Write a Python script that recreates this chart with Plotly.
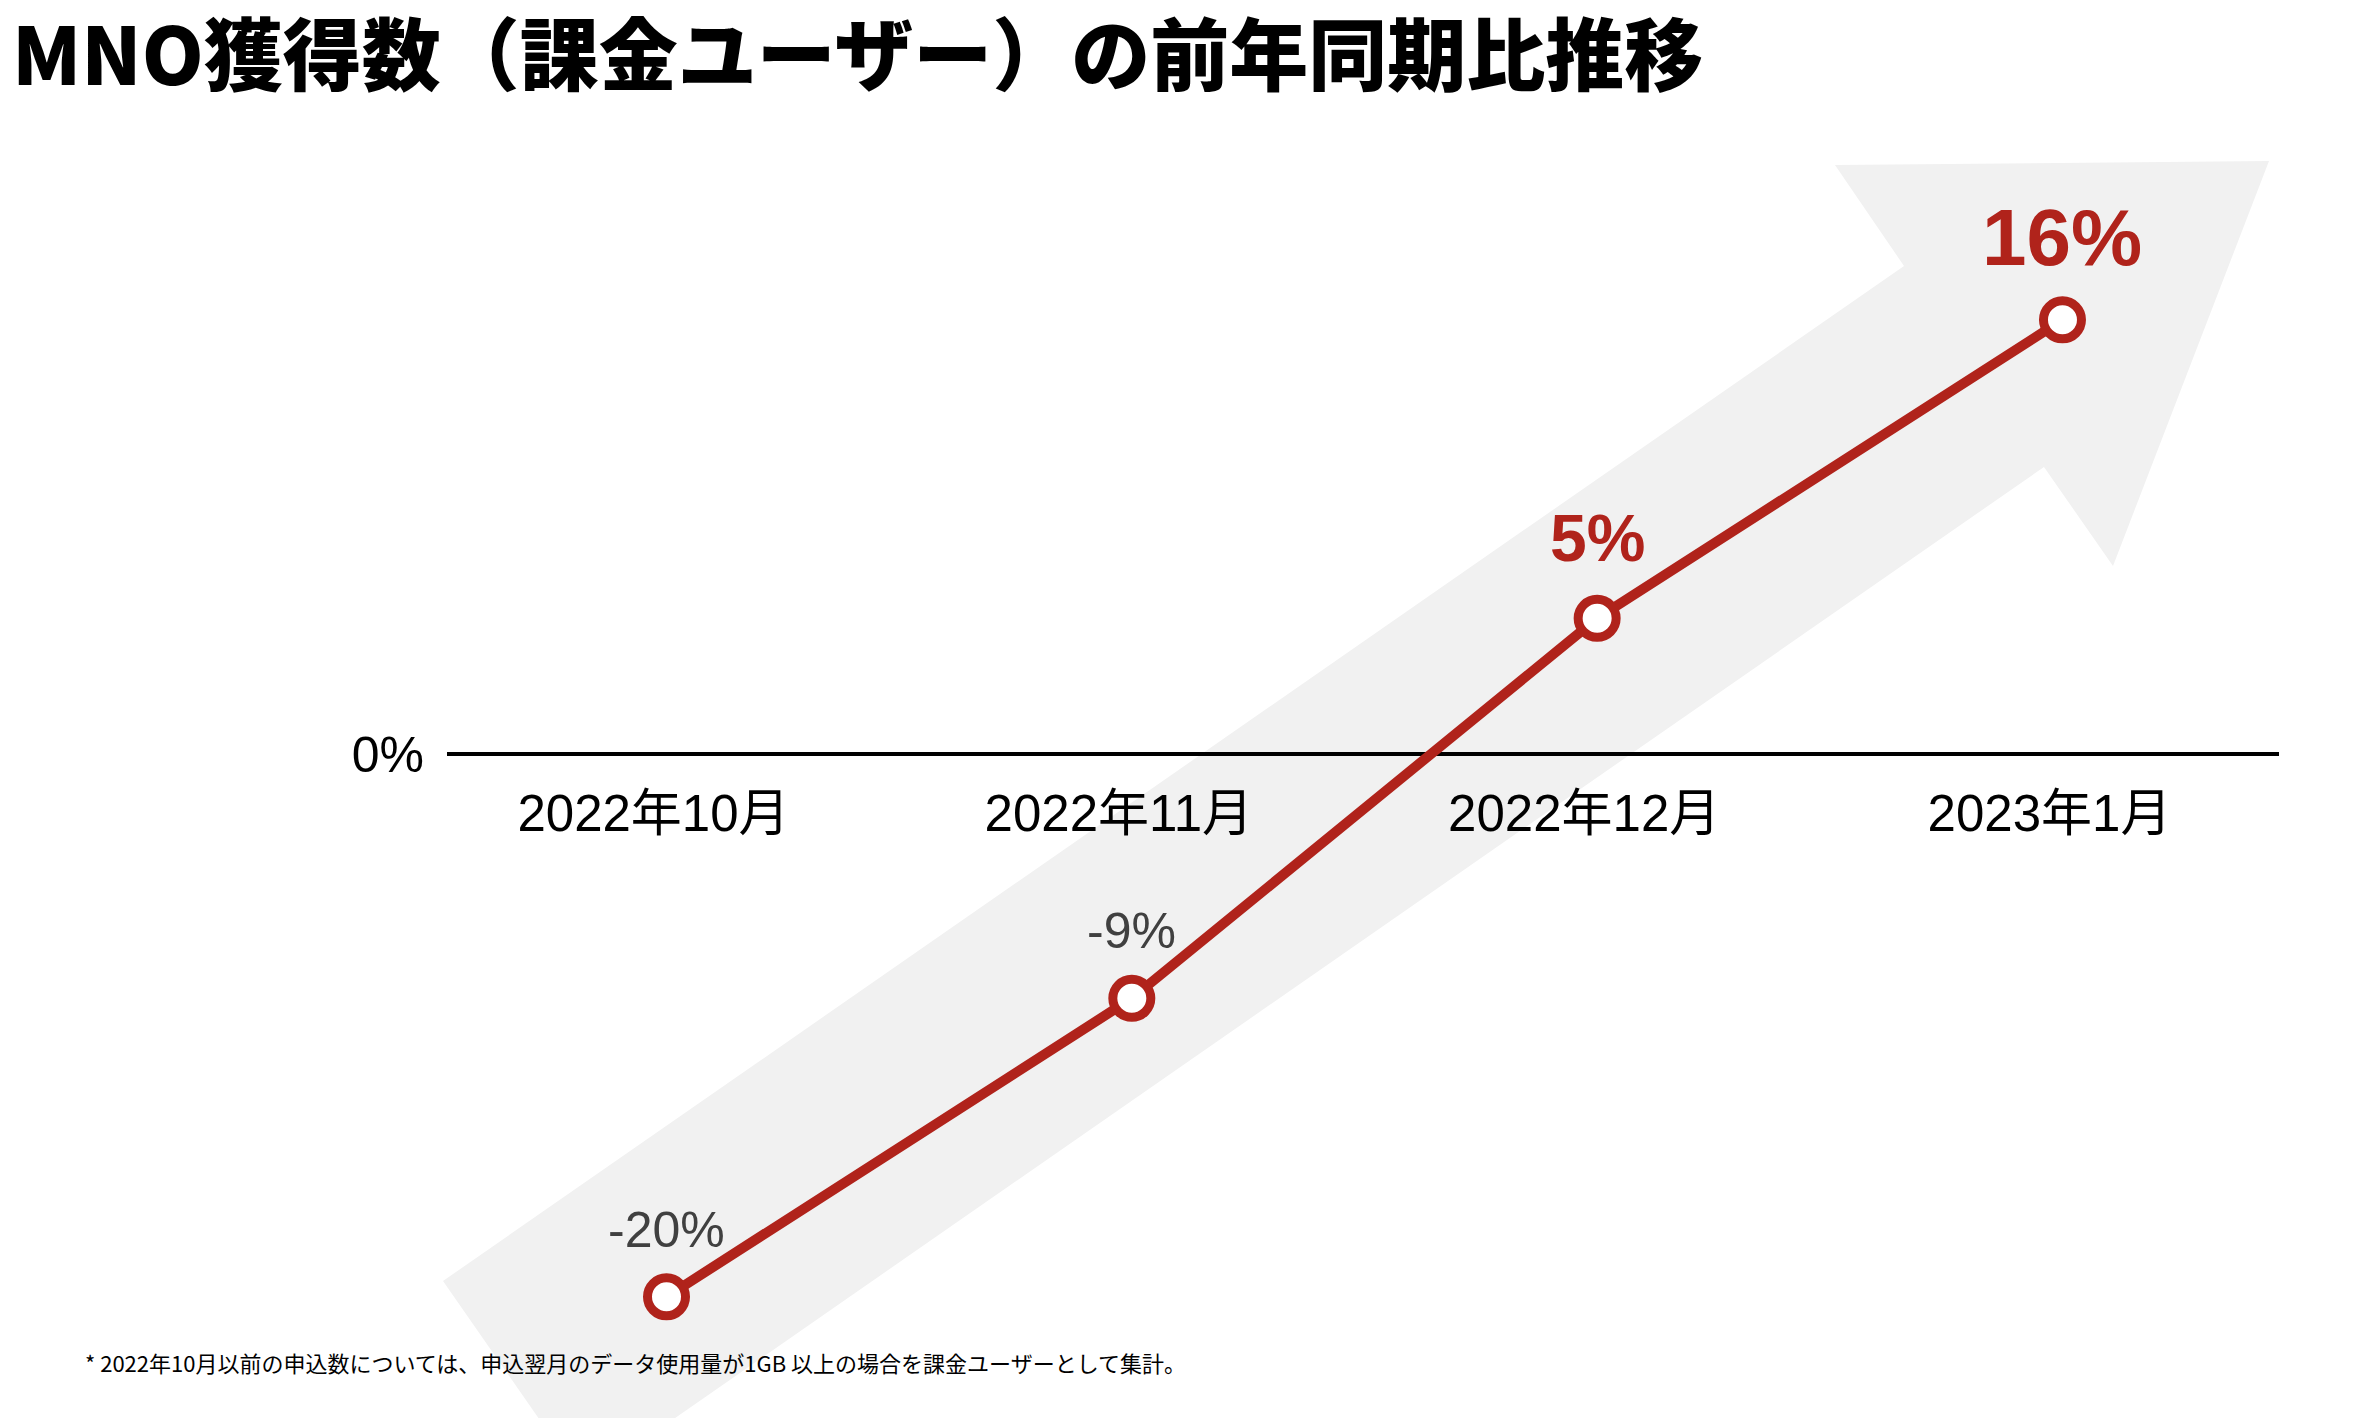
import plotly.graph_objects as go

# ---------------- data ----------------
categories = ["2022年10月", "2022年11月", "2022年12月", "2023年1月"]
yoy_pct = [-20, -9, 5, 16]
value_labels = ["-20%", "-9%", "5%", "16%"]
label_colors = ["#404040", "#404040", "#B0231B", "#B0231B"]
label_sizes = [50, 50, 66, 80]
label_weights = [400, 400, 700, 700]
label_shifts = [37, 37, 41, 36]

title_text = "MNO獲得数（課金ユーザー）の前年同期比推移"
footnote_text = "* 2022年10月以前の申込数については、申込翌月のデータ使用量が1GB 以上の場合を課金ユーザーとして集計。"

# ---------------- layout geometry ----------------
FIG_W, FIG_H = 2354, 1418
M_L, M_R, M_T, M_B = 447, 75, 100, 40
X_RANGE = [-0.4717, 3.4653]
Y_RANGE = [-22.99, 24.10]

RED = "#B0231B"
ARROW_GRAY = "#F1F1F1"
LATIN = "Liberation Sans, Noto Sans CJK JP, sans-serif"
CJK = "Noto Sans CJK JP, sans-serif"


def paper_x(px):
    return (px - M_L) / (FIG_W - M_L - M_R)


def paper_y(py):
    return (FIG_H - M_B - py) / (FIG_H - M_T - M_B)


# decorative background arrow (pixel outline -> paper coordinates)
arrow_px = [(443, 1281), (1904, 266), (1835, 165), (2269, 161),
            (2113, 566), (2044, 467), (583, 1482)]
arrow_path = "M " + " L ".join(f"{paper_x(x):.5f},{paper_y(y):.5f}" for x, y in arrow_px) + " Z"

x_idx = list(range(len(categories)))

fig = go.Figure()
fig.add_trace(go.Scatter(
    x=x_idx, y=yoy_pct, mode="lines+markers",
    line=dict(color=RED, width=10),
    marker=dict(size=38, color="white", line=dict(color=RED, width=9)),
    hoverinfo="skip", showlegend=False, cliponaxis=False,
))

annotations = []
for i, (v, t, c, s, w, sh) in enumerate(zip(yoy_pct, value_labels, label_colors,
                                             label_sizes, label_weights, label_shifts)):
    annotations.append(dict(
        x=i, y=v, xref="x", yref="y", text=t, showarrow=False,
        xanchor="center", yanchor="bottom", yshift=sh,
        font=dict(family=LATIN, size=s, color=c, weight=w),
    ))

annotations.append(dict(
    x=paper_x(83), y=paper_y(1362), xref="paper", yref="paper",
    text=footnote_text, showarrow=False, xanchor="left", yanchor="middle",
    font=dict(family=CJK, size=22, color="#000000"),
))

zero_pos = (0 - Y_RANGE[0]) / (Y_RANGE[1] - Y_RANGE[0])

fig.update_layout(
    width=FIG_W, height=FIG_H,
    margin=dict(l=M_L, r=M_R, t=M_T, b=M_B, autoexpand=False),
    paper_bgcolor="white", plot_bgcolor="rgba(0,0,0,0)",
    title=dict(
        text=title_text, x=12 / FIG_W, xref="container", xanchor="left",
        y=1 - 57 / FIG_H, yref="container", yanchor="middle",
        font=dict(family=CJK, size=79, color="#000000", weight=900),
    ),
    shapes=[dict(type="path", path=arrow_path, xref="paper", yref="paper",
                 fillcolor=ARROW_GRAY, line=dict(width=0), layer="below")],
    annotations=annotations,
    xaxis=dict(
        range=X_RANGE, tickmode="array", tickvals=x_idx, ticktext=categories,
        showgrid=False, zeroline=False, showline=True, linecolor="#000000",
        linewidth=4, anchor="free", position=zero_pos, layer="below traces",
        ticks="", ticklabelstandoff=14, ticklabelshift=-13,
        tickfont=dict(family=LATIN, size=51, color="#000000"),
    ),
    yaxis=dict(
        range=Y_RANGE, tickmode="array", tickvals=[0], ticktext=["0%"],
        showgrid=False, zeroline=False, showline=False, ticks="",
        ticklabelstandoff=22,
        tickfont=dict(family=LATIN, size=50, color="#000000"),
    ),
)

fig.write_html("out.html")
